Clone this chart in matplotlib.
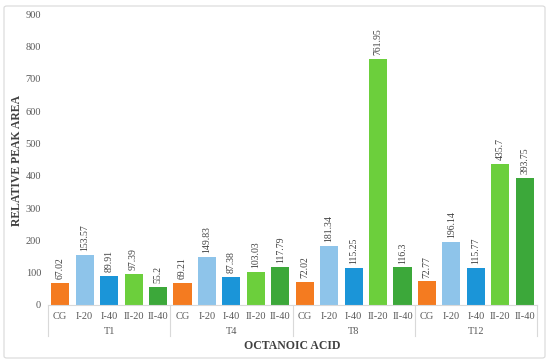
import matplotlib
matplotlib.use("Agg")
import matplotlib.pyplot as plt
from matplotlib.patches import FancyBboxPatch
from matplotlib.lines import Line2D

groups = ["T1", "T4", "T8", "T12"]
treatments = ["CG", "I-20", "I-40", "II-20", "II-40"]
values = {
    "T1": [67.02, 153.57, 89.91, 97.39, 55.2],
    "T4": [69.21, 149.83, 87.38, 103.03, 117.79],
    "T8": [72.02, 181.34, 115.25, 761.95, 116.3],
    "T12": [72.77, 196.14, 115.77, 435.7, 393.75],
}
value_labels = {
    "T1": ["67.02", "153.57", "89.91", "97.39", "55.2"],
    "T4": ["69.21", "149.83", "87.38", "103.03", "117.79"],
    "T8": ["72.02", "181.34", "115.25", "761.95", "116.3"],
    "T12": ["72.77", "196.14", "115.77", "435.7", "393.75"],
}
colors = ["#F47B20", "#8EC4EA", "#1B95D8", "#6CCF3C", "#3CA83A"]
yticks = [0, 100, 200, 300, 400, 500, 600, 700, 800, 900]

plt.rcParams["font.family"] = ["Liberation Serif", "DejaVu Serif"]

fig = plt.figure(figsize=(5.5, 3.64), dpi=100)
W, H = 550, 364
ax = fig.add_axes([48 / W, 1 - 305 / H, (537 - 48) / W, (305 - 14) / H])

xs, hs, cs, labs, ticklabs = [], [], [], [], []
i = 0
for g in groups:
    for j, t in enumerate(treatments):
        xs.append(i)
        hs.append(values[g][j])
        cs.append(colors[j])
        labs.append(value_labels[g][j])
        ticklabs.append(t)
        i += 1

bars = ax.bar(xs, hs, width=0.74, color=cs, zorder=2)
for x, h, l in zip(xs, hs, labs):
    ax.text(x, h + 12, l, rotation=90, ha="center", va="bottom",
            fontsize=7, color="#404040")

ax.set_xlim(-0.5, len(xs) - 0.5)
ax.set_ylim(0, 900)
ax.set_yticks(yticks)
ax.set_yticklabels([str(v) for v in yticks], fontsize=7.5, color="#595959")
ax.set_xticks(xs)
ax.set_xticklabels(ticklabs, fontsize=7.5, color="#595959")
ax.tick_params(axis="both", length=0)
ax.tick_params(axis="y", pad=5)
ax.tick_params(axis="x", pad=5)
for s in ["left", "right", "top"]:
    ax.spines[s].set_visible(False)
ax.spines["bottom"].set_color("#D9D9D9")

# group separators and group labels
trans = ax.get_xaxis_transform()
sep_bottom = -(336 - 305) / (305 - 14)
for k in range(len(groups) + 1):
    xv = k * len(treatments) - 0.5
    ax.add_line(Line2D([xv, xv], [0, sep_bottom], transform=trans,
                       color="#D9D9D9", lw=0.8, clip_on=False))
for k, g in enumerate(groups):
    xc = k * len(treatments) + (len(treatments) - 1) / 2
    ax.text(xc, -(332 - 305) / (305 - 14), g, transform=trans, ha="center",
            va="center", fontsize=7.5, color="#595959")

fig.text(292 / W, 1 - 346 / H, "OCTANOIC ACID", ha="center", va="center",
         fontsize=8.5, fontweight="bold", color="#404040")
fig.text(17 / W, 1 - 160 / H, "RELATIVE PEAK AREA", ha="center", va="center",
         rotation=90, fontsize=8.5, fontweight="bold", color="#404040")

# figure border
border = FancyBboxPatch((4 / W, 6 / H), (545 - 4) / W, (358 - 6) / H,
                        boxstyle="round,pad=0,rounding_size=0.005",
                        transform=fig.transFigure, fill=False,
                        edgecolor="#D9D9D9", lw=0.8)
fig.patches.append(border)

fig.savefig("out.png", dpi=100)
